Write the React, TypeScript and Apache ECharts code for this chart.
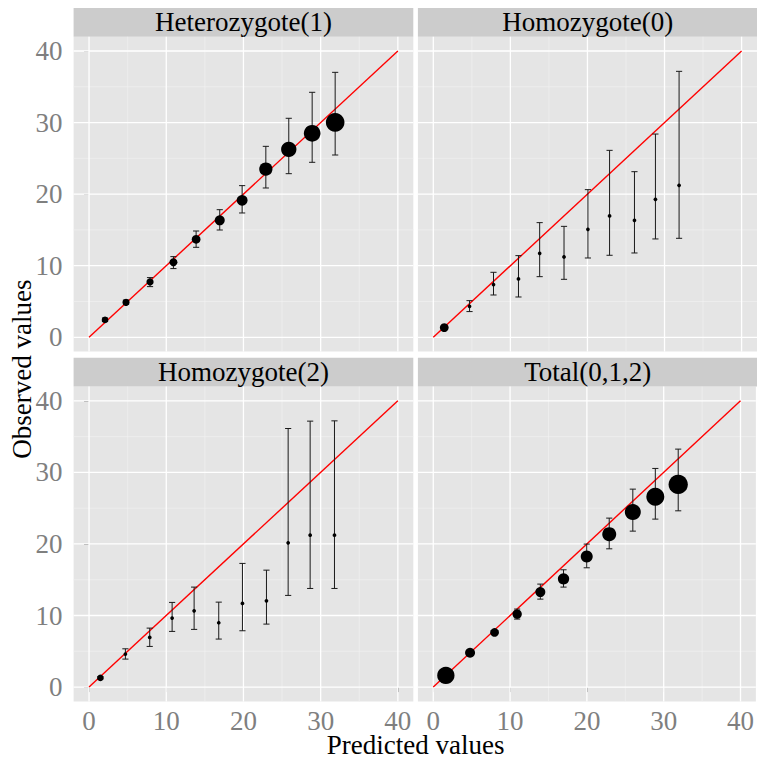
import React, { useEffect, useRef } from 'react';
import * as echarts from 'echarts';

// ---------- data ----------
const PANEL_TITLES = ['Heterozygote(1)', 'Homozygote(0)', 'Homozygote(2)', 'Total(0,1,2)'];

const het_pred = [2.07, 4.79, 7.9, 10.93, 13.87, 16.93, 19.83, 22.9, 25.87, 28.9, 31.88];
const het_obs = [2.42, 4.89, 7.73, 10.48, 13.69, 16.34, 19.14, 23.5, 26.26, 28.5, 30.03];
const het_lo = [2.2, 4.6, 7.08, 9.6, 12.57, 14.99, 17.37, 20.86, 22.86, 24.45, 25.47];
const het_hi = [2.7, 5.2, 8.34, 11.27, 14.85, 17.83, 21.19, 26.68, 30.6, 34.23, 37.02];
const het_n = [11, 13, 13, 16, 19, 25, 29, 44, 59, 70, 87];

const hom0_pred = [1.42, 4.7, 7.81, 11.05, 13.8, 16.96, 20.06, 22.87, 26.1, 28.82, 31.89];
const hom0_obs = [1.35, 4.33, 7.36, 8.15, 11.73, 11.22, 15.09, 16.95, 16.34, 19.28, 21.23];
const hom0_lo = [1.2, 3.59, 5.91, 5.63, 8.47, 8.1, 11.08, 11.46, 11.78, 13.74, 13.83];
const hom0_hi = [1.5, 5.12, 9.08, 11.41, 16.02, 15.5, 20.63, 26.12, 23.14, 28.4, 37.16];
const hom0_n = [19, 3.5, 3.5, 3.5, 3.5, 3.5, 3.5, 3.5, 3.5, 3.5, 3.5];

const hom2_pred = [1.47, 4.71, 7.86, 10.76, 13.61, 16.8, 19.87, 22.98, 25.79, 28.64, 31.79];
const hom2_obs = [1.3, 4.61, 6.94, 9.64, 10.66, 8.99, 11.69, 12.06, 20.16, 21.23, 21.23];
const hom2_lo = [1.15, 3.91, 5.68, 7.78, 8.06, 6.71, 7.87, 8.8, 12.81, 13.78, 13.78];
const hom2_hi = [1.45, 5.35, 8.24, 11.83, 13.97, 11.87, 17.28, 16.34, 36.13, 37.16, 37.2];
const hom2_n = [11, 3.5, 3.5, 3.5, 3.5, 3.5, 3.5, 3.5, 3.5, 3.5, 3.5];

const tot_pred = [1.64, 4.79, 7.98, 10.92, 13.94, 16.96, 19.98, 22.91, 25.98, 28.91, 31.89];
const tot_obs = [1.63, 4.8, 7.64, 10.2, 13.27, 15.13, 18.25, 21.37, 24.45, 26.59, 28.31];
const tot_lo = [1.5, 4.6, 7.4, 9.5, 12.29, 13.97, 16.67, 19.32, 21.79, 23.47, 24.63];
const tot_hi = [1.8, 5.0, 7.9, 10.9, 14.39, 16.39, 19.98, 23.61, 27.66, 30.55, 33.25];
const tot_n = [75, 25, 19, 22, 25, 32, 36, 49, 64, 81, 93];

const MAJOR_TICKS = [0, 10, 20, 30, 40];
const MINOR_TICKS = [5, 15, 25, 35];
const AXIS_MIN = -2;
const AXIS_MAX = 42;
const REF_LINE = [0, 40];
const X_TITLE = 'Predicted values';
const Y_TITLE = 'Observed values';

const PANELS = [
  { pred: het_pred, obs: het_obs, lo: het_lo, hi: het_hi, n: het_n },
  { pred: hom0_pred, obs: hom0_obs, lo: hom0_lo, hi: hom0_hi, n: hom0_n },
  { pred: hom2_pred, obs: hom2_obs, lo: hom2_lo, hi: hom2_hi, n: hom2_n },
  { pred: tot_pred, obs: tot_obs, lo: tot_lo, hi: tot_hi, n: tot_n },
];

// ---------- layout / style ----------
const W = 757;
const H = 760;
const COLS = [73.6, 417.9];
const ROWS = [36.7, 386.5];
const PW = 339.7;
const PH = 314.9;
const STRIP_H = 28.7;
const FONT = 'Liberation Serif';
const FS = 27;
const CAP_WIDTH = 0.8;

export default function App() {
  const ref = useRef<HTMLDivElement>(null);

  useEffect(() => {
    if (!ref.current) return;
    const chart = echarts.init(ref.current, null, { renderer: 'svg', width: W, height: H });

    const grids: any[] = [];
    const xAxes: any[] = [];
    const yAxes: any[] = [];
    const series: any[] = [];
    const graphics: any[] = [];

    PANELS.forEach((p, i) => {
      const r = Math.floor(i / 2);
      const c = i % 2;
      const bottom = r === 1;
      const left = c === 0;
      grids.push({
        left: COLS[c],
        top: ROWS[r],
        width: PW,
        height: PH,
        show: true,
        backgroundColor: '#E5E5E5',
        borderWidth: 0,
        containLabel: false,
      });
      xAxes.push({
        gridIndex: i,
        type: 'value',
        min: AXIS_MIN,
        max: AXIS_MAX,
        splitLine: { show: false },
        axisLine: { show: false },
        axisTick: {
          show: bottom,
          customValues: MAJOR_TICKS,
          length: 5,
          lineStyle: { color: '#7F7F7F', width: 1 },
        },
        axisLabel: {
          show: bottom,
          customValues: MAJOR_TICKS,
          fontSize: FS,
          fontFamily: FONT,
          color: '#7F7F7F',
          margin: 6,
        },
      });
      yAxes.push({
        gridIndex: i,
        type: 'value',
        min: AXIS_MIN,
        max: AXIS_MAX,
        splitLine: { show: false },
        axisLine: { show: false },
        axisTick: {
          show: left,
          customValues: MAJOR_TICKS,
          length: 5,
          lineStyle: { color: '#7F7F7F', width: 1 },
        },
        axisLabel: {
          show: left,
          customValues: MAJOR_TICKS,
          fontSize: FS,
          fontFamily: FONT,
          color: '#7F7F7F',
          margin: 11,
        },
      });

      // grid lines
      const gridData: number[][] = [];
      MINOR_TICKS.forEach((v) => {
        gridData.push([v, v, 0, 1]);
        gridData.push([v, v, 1, 1]);
      });
      MAJOR_TICKS.forEach((v) => {
        gridData.push([v, v, 0, 0]);
        gridData.push([v, v, 1, 0]);
      });
      series.push({
        type: 'custom',
        xAxisIndex: i,
        yAxisIndex: i,
        silent: true,
        z: 1,
        encode: { x: 0, y: 1 },
        data: gridData,
        renderItem: (params: any, api: any) => {
          const v = api.value(0);
          const dir = api.value(2);
          const minor = api.value(3) === 1;
          const cs = params.coordSys;
          const pt = api.coord([v, v]);
          const shape =
            dir === 0
              ? { x1: pt[0], y1: cs.y, x2: pt[0], y2: cs.y + cs.height }
              : { x1: cs.x, y1: pt[1], x2: cs.x + cs.width, y2: pt[1] };
          return {
            type: 'line',
            shape,
            style: { stroke: minor ? '#F2F2F2' : '#FFFFFF', lineWidth: minor ? 0.6 : 1.3 },
          };
        },
      });

      // reference line y = x
      series.push({
        type: 'line',
        xAxisIndex: i,
        yAxisIndex: i,
        z: 2,
        silent: true,
        symbol: 'none',
        lineStyle: { color: '#FF0000', width: 1.4 },
        data: [
          [REF_LINE[0], REF_LINE[0]],
          [REF_LINE[1], REF_LINE[1]],
        ],
      });

      // error bars
      series.push({
        type: 'custom',
        xAxisIndex: i,
        yAxisIndex: i,
        z: 3,
        silent: true,
        encode: { x: 0, y: [1, 2] },
        data: p.pred.map((x, j) => [x, p.lo[j], p.hi[j]]),
        renderItem: (params: any, api: any) => {
          const x = api.value(0);
          const lo = api.value(1);
          const hi = api.value(2);
          const a = api.coord([x, lo]);
          const b = api.coord([x, hi]);
          const l = api.coord([x - CAP_WIDTH / 2, hi])[0];
          const rr = api.coord([x + CAP_WIDTH / 2, hi])[0];
          const st = { stroke: '#1A1A1A', lineWidth: 1 };
          return {
            type: 'group',
            children: [
              { type: 'line', shape: { x1: a[0], y1: a[1], x2: b[0], y2: b[1] }, style: st },
              { type: 'line', shape: { x1: l, y1: b[1], x2: rr, y2: b[1] }, style: st },
              { type: 'line', shape: { x1: l, y1: a[1], x2: rr, y2: a[1] }, style: st },
            ],
          };
        },
      });

      // points
      series.push({
        type: 'scatter',
        xAxisIndex: i,
        yAxisIndex: i,
        z: 4,
        symbol: 'circle',
        symbolSize: (v: number[]) => 2 * Math.sqrt(v[2]),
        itemStyle: { color: '#000000', opacity: 1 },
        data: p.pred.map((x, j) => [x, p.obs[j], p.n[j]]),
      });

      // strip
      graphics.push({
        type: 'rect',
        silent: true,
        shape: { x: COLS[c], y: ROWS[r] - STRIP_H, width: PW, height: STRIP_H },
        style: { fill: '#CCCCCC' },
      });
      graphics.push({
        type: 'text',
        silent: true,
        x: COLS[c] + PW / 2,
        y: ROWS[r] - STRIP_H / 2,
        style: {
          text: PANEL_TITLES[i],
          fontSize: FS,
          fontFamily: FONT,
          fill: '#000000',
          textAlign: 'center',
          textVerticalAlign: 'middle',
        },
      });
    });

    graphics.push({
      type: 'text',
      silent: true,
      x: (COLS[0] + COLS[1] + PW) / 2,
      y: 745,
      style: {
        text: X_TITLE,
        fontSize: FS,
        fontFamily: FONT,
        fill: '#000000',
        textAlign: 'center',
        textVerticalAlign: 'middle',
      },
    });
    graphics.push({
      type: 'text',
      silent: true,
      x: 22,
      y: (ROWS[0] + ROWS[1] + PH) / 2,
      rotation: Math.PI / 2,
      style: {
        text: Y_TITLE,
        fontSize: FS,
        fontFamily: FONT,
        fill: '#000000',
        textAlign: 'center',
        textVerticalAlign: 'middle',
      },
    });

    chart.setOption({
      animation: false,
      backgroundColor: '#FFFFFF',
      grid: grids,
      xAxis: xAxes,
      yAxis: yAxes,
      series,
      graphic: graphics,
    });

    return () => chart.dispose();
  }, []);

  return (
    <div
      ref={ref}
      style={{ position: 'absolute', left: 0, top: 0, width: W, height: H }}
    />
  );
}
